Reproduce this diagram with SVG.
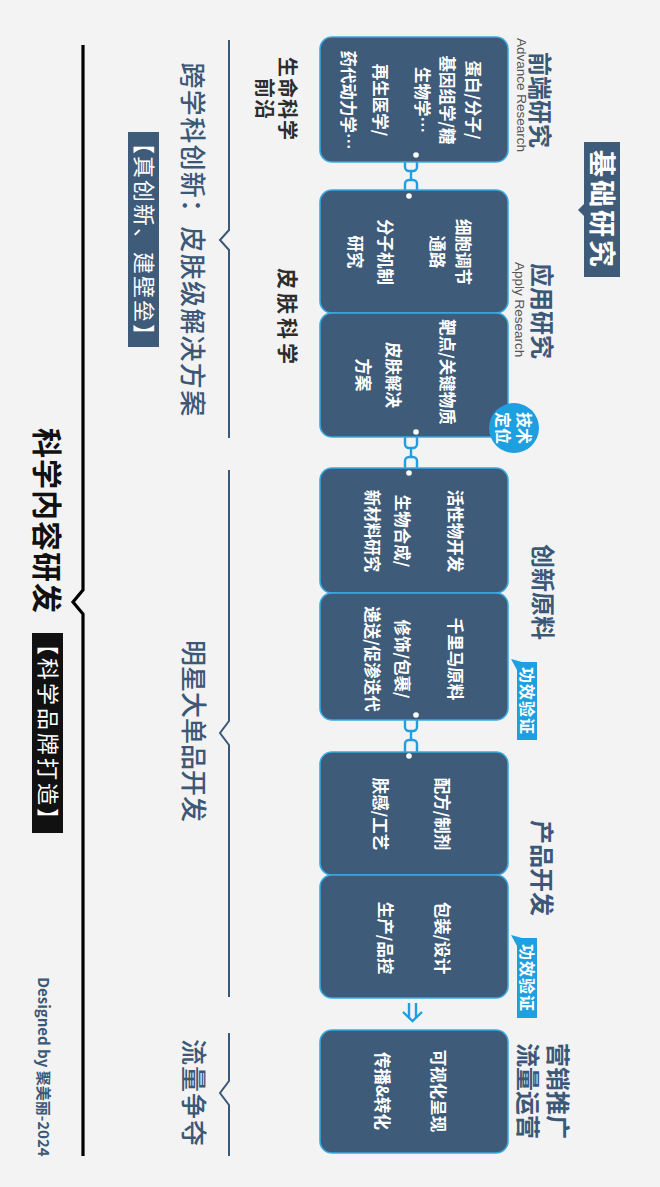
<svg xmlns="http://www.w3.org/2000/svg" width="660" height="1187" viewBox="0 0 660 1187">
<style>
.bg{fill:#f3f3f4}
.box{fill:#3f5b7a;stroke:#3aa9e0;stroke-width:1.6}
.cjk{font-family:"Noto Sans CJK SC","Liberation Sans",sans-serif}
.bt{font-size:16.5px;font-weight:700;fill:#ffffff;text-anchor:middle}
.ttl{font-size:24px;font-weight:700;fill:#3c5877;text-anchor:middle}
.en{font-family:"Liberation Sans",sans-serif;font-size:13.5px;fill:#555555}
.tag{fill:#1e9fe0}
.tagt{font-size:16px;font-weight:700;fill:#ffffff;text-anchor:middle}
.chain{fill:none;stroke:#1e9fe0;stroke-width:2.4}
.dot{fill:#ffffff}
.brk{fill:none;stroke:#3c5877;stroke-width:2}
.main{fill:none;stroke:#000000;stroke-width:3.2}
.lab{font-size:26px;font-weight:500;fill:#3c5877;text-anchor:middle}
</style>
<rect class="bg" x="0" y="0" width="660" height="1187"/>
<g transform="matrix(0 1 -1 0 660 0)">
  <g id="connectors">
    <g id="chain1">
      <rect class="chain" x="151" y="243" width="20" height="12" rx="4"/>
      <line class="chain" x1="171" y1="249" x2="180" y2="249"/>
      <rect class="chain" x="180" y="243" width="20" height="12" rx="4"/>
    </g>
    <g id="chain2">
      <rect class="chain" x="428" y="243" width="20" height="12" rx="4"/>
      <line class="chain" x1="448" y1="249" x2="457" y2="249"/>
      <rect class="chain" x="457" y="243" width="20" height="12" rx="4"/>
    </g>
    <g id="chain3">
      <rect class="chain" x="711" y="243" width="20" height="12" rx="4"/>
      <line class="chain" x1="731" y1="249" x2="740" y2="249"/>
      <rect class="chain" x="740" y="243" width="20" height="12" rx="4"/>
    </g>
    <g id="arrow">
      <line class="chain" x1="1003" y1="244" x2="1018" y2="244" stroke-width="1.8"/>
      <line class="chain" x1="1003" y1="251" x2="1018" y2="251" stroke-width="1.8"/>
      <polyline class="chain" points="1012,257 1021,247.5 1012,238" stroke-width="1.8"/>
    </g>
  </g>

  <g id="box1">
    <rect class="box" x="37" y="152" width="125" height="188" rx="12"/>
    <text class="cjk bt" x="100" y="193">蛋白/分子/</text>
    <text class="cjk bt" x="100" y="219">基因组学/糖</text>
    <text class="cjk bt" x="100" y="244">生物学…</text>
    <text class="cjk bt" x="100" y="286">再生医学/</text>
    <text class="cjk bt" x="100" y="318">药代动力学…</text>
  </g>
  <g id="box2">
    <rect class="box" x="190" y="152" width="123" height="188" rx="12"/>
    <text class="cjk bt" x="252" y="203">细胞调节</text>
    <text class="cjk bt" x="252" y="229">通路</text>
    <text class="cjk bt" x="252" y="281">分子机制</text>
    <text class="cjk bt" x="252" y="311">研究</text>
  </g>
  <g id="box3">
    <rect class="box" x="313" y="152" width="124" height="188" rx="12"/>
    <text class="cjk bt" x="372" y="219">靶点/关键物质</text>
    <text class="cjk bt" x="375" y="273">皮肤解决</text>
    <text class="cjk bt" x="375" y="303">方案</text>
  </g>
  <g id="box4">
    <rect class="box" x="468" y="152" width="125" height="188" rx="12"/>
    <text class="cjk bt" x="531" y="211">活性物开发</text>
    <text class="cjk bt" x="531" y="264">生物合成/</text>
    <text class="cjk bt" x="531" y="294">新材料研究</text>
  </g>
  <g id="box5">
    <rect class="box" x="593" y="152" width="127" height="188" rx="12"/>
    <text class="cjk bt" x="659" y="211">千里马原料</text>
    <text class="cjk bt" x="659" y="264">修饰/包裹/</text>
    <text class="cjk bt" x="659" y="294">递送/促渗迭代</text>
  </g>
  <g id="box6">
    <rect class="box" x="752" y="152" width="123" height="188" rx="12"/>
    <text class="cjk bt" x="814" y="224">配方/制剂</text>
    <text class="cjk bt" x="814" y="286">肤感/工艺</text>
  </g>
  <g id="box7">
    <rect class="box" x="875" y="152" width="123" height="188" rx="12"/>
    <text class="cjk bt" x="938" y="224">包装/设计</text>
    <text class="cjk bt" x="938" y="281">生产/品控</text>
  </g>
  <g id="box8">
    <rect class="box" x="1030" y="152" width="123" height="188" rx="12"/>
    <text class="cjk bt" x="1091" y="228">可视化呈现</text>
    <text class="cjk bt" x="1091" y="284">传播&amp;转化</text>
  </g>

  <g id="dots">
    <circle class="dot" cx="155" cy="244" r="2.8"/>
    <circle class="dot" cx="196" cy="251" r="2.8"/>
    <circle class="dot" cx="432" cy="244" r="2.8"/>
    <circle class="dot" cx="473" cy="251" r="2.8"/>
    <circle class="dot" cx="715" cy="244" r="2.8"/>
    <circle class="dot" cx="756" cy="251" r="2.8"/>
  </g>

  <g id="titles">
    <text class="cjk ttl" x="100" y="129">前端研究</text>
    <text class="en" x="38" y="143">Advance Research</text>
    <text class="cjk ttl" x="311" y="127">应用研究</text>
    <text class="en" x="262" y="145" font-size="14">Apply Research</text>
    <text class="cjk ttl" x="592" y="126">创新原料</text>
    <text class="cjk ttl" x="868" y="127">产品开发</text>
    <text class="cjk ttl" x="1091" y="111">营销推广</text>
    <text class="cjk ttl" x="1091" y="141">流量运营</text>
  </g>

  <g id="basic-research">
    <rect x="142" y="40" width="135" height="36" fill="#3f5b7a"/>
    <polygon points="204,76 216,76 210,82" fill="#3f5b7a"/>
    <text class="cjk" x="210" y="68" font-size="27" font-weight="700" fill="#ffffff" text-anchor="middle" letter-spacing="3">基础研究</text>
  </g>

  <g id="tech-position">
    <circle cx="428" cy="146" r="25" fill="#1e9fe0"/>
    <text class="cjk tagt" x="428" y="142" font-size="17">技术</text>
    <text class="cjk tagt" x="428" y="163" font-size="17">定位</text>
  </g>

  <g id="verify1">
    <rect class="tag" x="662" y="123" width="78" height="20"/>
    <polygon class="tag" points="662,138 670,143 659,149"/>
    <text class="cjk tagt" x="701" y="139" letter-spacing="1">功效验证</text>
  </g>
  <g id="verify2">
    <rect class="tag" x="938" y="123" width="80" height="20"/>
    <polygon class="tag" points="938,138 946,143 935,149"/>
    <text class="cjk tagt" x="978" y="139" letter-spacing="1">功效验证</text>
  </g>

  <g id="brackets">
    <path class="brk" d="M40 431 H230 L240 440 L250 431 H438"/>
    <path class="brk" d="M470 431 H721 L733 440 L745 431 H997"/>
    <path class="brk" d="M1033 431 H1081 L1093 440 L1105 431 H1156"/>
    <path class="main" d="M45 577 H590 L602 587 L614 577 H1156"/>
  </g>

  <g id="life-science">
    <text class="cjk" x="99" y="380" font-size="20" font-weight="700" fill="#2d2d2d" text-anchor="middle" letter-spacing="1">生命科学</text>
    <text class="cjk" x="99" y="403" font-size="20" font-weight="700" fill="#2d2d2d" text-anchor="middle" letter-spacing="1">前沿</text>
  </g>
  <g id="skin-science">
    <text class="cjk" x="318" y="380" font-size="21" font-weight="700" fill="#2d2d2d" text-anchor="middle" letter-spacing="4">皮肤科学</text>
  </g>

  <g id="cross-discipline">
    <text class="cjk lab" x="240" y="477" letter-spacing="1.3">跨学科创新：皮肤级解决方案</text>
    <rect x="132" y="501" width="215" height="31" fill="#3f5b7a"/>
    <text class="cjk" x="240" y="524" font-size="22" fill="#ffffff" text-anchor="middle" letter-spacing="2">【真创新、建壁垒】</text>
  </g>

  <g id="star-product">
    <text class="cjk lab" x="731" y="476">明星大单品开发</text>
  </g>
  <g id="traffic">
    <text class="cjk lab" x="1093" y="476" font-weight="700" letter-spacing="1">流量争夺</text>
  </g>

  <g id="science-content">
    <text class="cjk" x="521" y="624" font-size="30" font-weight="700" fill="#111111" text-anchor="middle" letter-spacing="1">科学内容研发</text>
    <rect x="633" y="597" width="200" height="31" fill="#111111"/>
    <text class="cjk" x="733" y="620" font-size="22" fill="#ffffff" text-anchor="middle" letter-spacing="3">【科学品牌打造】</text>
  </g>

  <g id="credit">
    <text class="cjk" x="1067" y="622" font-size="15" font-weight="700" fill="#3c5877" text-anchor="middle">Designed by 聚美丽-2024</text>
  </g>
</g>
</svg>
